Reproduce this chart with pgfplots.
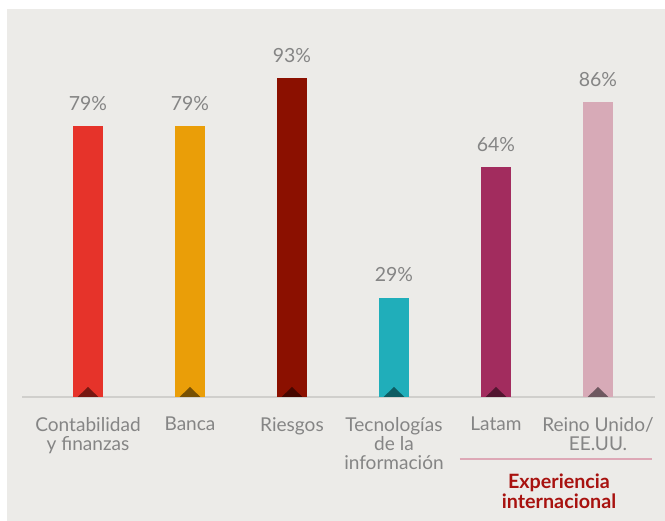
\documentclass[border=0pt]{standalone}
\usepackage{pgfplots}
\pgfplotsset{compat=1.18}
\usepackage{fontspec}
\setmainfont{Lato}
\definecolor{bg}{HTML}{ECEBE8}
\definecolor{txt}{HTML}{858585}
\definecolor{axl}{HTML}{D0CFCC}
\definecolor{c1}{HTML}{E6332A}
\definecolor{c2}{HTML}{EA9E08}
\definecolor{c3}{HTML}{8B1000}
\definecolor{c4}{HTML}{20AEBA}
\definecolor{c5}{HTML}{A22C5E}
\definecolor{c6}{HTML}{D7AAB7}
\definecolor{d1}{HTML}{771812}
\definecolor{d2}{HTML}{775004}
\definecolor{d3}{HTML}{460700}
\definecolor{d4}{HTML}{0E5C62}
\definecolor{d5}{HTML}{521630}
\definecolor{d6}{HTML}{6E5860}
\definecolor{grp}{HTML}{DDA8B6}
\definecolor{grpt}{HTML}{A8120F}
\pgfdeclareplotmark{basetri}{%
  \pgfpathmoveto{\pgfqpoint{-7.8pt}{0pt}}%
  \pgfpathlineto{\pgfqpoint{0pt}{7.5pt}}%
  \pgfpathlineto{\pgfqpoint{7.8pt}{0pt}}%
  \pgfpathclose\pgfusepathqfill}
\begin{document}
\begin{tikzpicture}
\fill[white] (0,0) rectangle (498.75pt,390.75pt);
\fill[bg] (5.25pt,0) rectangle (498.75pt,384pt);
\begin{axis}[
  at={(16.5pt,93pt)}, anchor=south west,
  scale only axis, width=474.75pt, height=257.25pt,
  xmin=-0.647, xmax=5.559, ymin=0, ymax=100,
  clip=false,
  axis y line=none,
  axis x line*=bottom,
  axis line style={draw=axl, line width=1.6pt, -},
  xtick={0,1,2,3,4,5},
  xticklabels={{Contabilidad\\y finanzas},{Banca},{Riesgos},{Tecnologías\\de la\\información},{Latam},{Reino Unido/\\EE.UU.}},
  major tick length=0pt,
  xticklabel style={anchor=north, align=center, inner sep=0pt, yshift=-15pt,
     text=txt, font=\fontsize{14.3}{14.3}\selectfont},
  nodes near coords style={anchor=base, inner sep=0pt, yshift=12pt, text=txt, font=\fontsize{14.6}{15}\selectfont},
  every axis plot/.append style={ybar, bar width=22.5pt, bar shift=0pt, draw=none},
]
\addplot[fill=c1, nodes near coords={79\%}] coordinates {(0,79)};
\addplot[fill=c2, nodes near coords={79\%}] coordinates {(1,79)};
\addplot[fill=c3, nodes near coords={93\%}] coordinates {(2,93)};
\addplot[fill=c4, nodes near coords={29\%}] coordinates {(3,29)};
\addplot[fill=c5, nodes near coords={64\%}] coordinates {(4,67)};
\addplot[fill=c6, nodes near coords={86\%}] coordinates {(5,86)};
\addplot[only marks, mark=basetri, color=d1] coordinates {(0,0)};
\addplot[only marks, mark=basetri, color=d2] coordinates {(1,0)};
\addplot[only marks, mark=basetri, color=d3] coordinates {(2,0)};
\addplot[only marks, mark=basetri, color=d4] coordinates {(3,0)};
\addplot[only marks, mark=basetri, color=d5] coordinates {(4,0)};
\addplot[only marks, mark=basetri, color=d6] coordinates {(5,0)};
\draw[grp, line width=1.8pt] (axis cs:3.647,-18.08) -- (axis cs:5.529,-18.08);
\node[anchor=base, inner sep=0pt, text=grpt, font=\fontsize{14.8}{15}\selectfont\bfseries, align=center]
  at (axis cs:4.618,-26.6) {Experiencia};
\node[anchor=base, inner sep=0pt, text=grpt, font=\fontsize{14.8}{15}\selectfont\bfseries, align=center]
  at (axis cs:4.618,-32.5) {internacional};
\end{axis}
\end{tikzpicture}
\end{document}
